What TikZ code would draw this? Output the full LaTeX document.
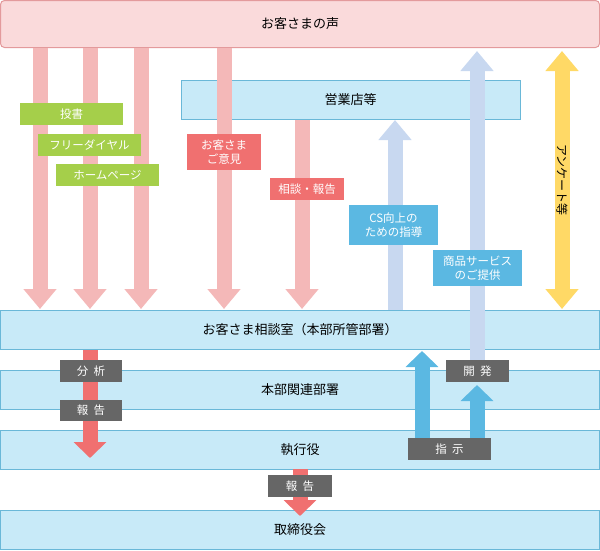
\documentclass[tikz,border=0pt]{standalone}
\usepackage{fontspec}
\setmainfont{Noto Sans CJK JP}
\usetikzlibrary{arrows.meta}
\definecolor{pinkbox}{HTML}{FADADB}
\definecolor{pinkline}{HTML}{E39A9C}
\definecolor{bluebox}{HTML}{C8EAF8}
\definecolor{blueline}{HTML}{6AB8D8}
\definecolor{pinkarrow}{HTML}{F4B8B8}
\definecolor{palearrow}{HTML}{C8D8F0}
\definecolor{yellowarrow}{HTML}{FFD966}
\definecolor{redlabel}{HTML}{F07070}
\definecolor{greenlabel}{HTML}{A5CF4A}
\definecolor{bluelabel}{HTML}{5BB8E2}
\definecolor{graylabel}{HTML}{666666}

\tikzset{
  box/.style={draw=blueline,fill=bluebox,line width=1pt,minimum height=39pt,font=\fontsize{13}{15}\selectfont},
  tag/.style={text=white,inner sep=0pt,align=center,font=\fontsize{11.5}{14}\selectfont},
  big/.style={line width=15pt,-{Triangle[width=32pt,length=20pt]}},
  small/.style={line width=15pt,-{Triangle[width=32pt,length=16pt]}}
}

\begin{document}
\begin{tikzpicture}[x=1pt,y=-1pt]
\useasboundingbox (0,0) rectangle (600,550);

% Boxes
\node [box,draw=pinkline,fill=pinkbox,rounded corners=4pt,minimum width=599pt,minimum height=47pt] (voice) at (300,24) {お客さまの声};
\node [box,minimum width=339pt] (branch) at (350.5,99.5) {営業店等};
\node [box,minimum width=599pt] (desk) at (300,330) {お客さま相談室（本部所管部署）};
\node [box,minimum width=599pt] (dept) at (300,389.5) {本部関連部署};
\node [box,minimum width=599pt] (exec) at (300,449.5) {執行役};
\node [box,minimum width=599pt] (board) at (300,529.5) {取締役会};

% Arrow end points
\foreach \x/\n in {40/a,90/b,141/c,224/d}{%
  \coordinate (s\n) at (\x,48);
  \coordinate (e\n) at (\x,309);
}
\coordinate (se) at (302,120);
\coordinate (ee) at (302,309);
\coordinate (cs0) at (395,310);
\coordinate (cs1) at (395,120);
\coordinate (sv0) at (477,380);
\coordinate (sv1) at (477,51);
\coordinate (q0) at (562,51);
\coordinate (q1) at (562,309);
\coordinate (an0) at (90,350);
\coordinate (an1) at (90,458);
\coordinate (rp0) at (300,469);
\coordinate (rp1) at (300,516);
\coordinate (in0) at (422,440);
\coordinate (in1) at (422,351);
\coordinate (dv0) at (477,440);
\coordinate (dv1) at (477,385);

% Arrows
\begin{scope}[every path/.style={draw}]
\foreach \n in {a,b,c,d,e}{\path[big,pinkarrow] (s\n) -- (e\n);}
\path[big,palearrow] (cs0) -- (cs1);
\path[big,palearrow] (sv0) -- (sv1);
\path[line width=15pt,yellowarrow,{Triangle[width=32pt,length=20pt]}-{Triangle[width=32pt,length=20pt]}] (q0) -- (q1);
\path[small,redlabel] (an0) -- (an1);
\path[small,redlabel] (rp0) -- (rp1);
\path[small,bluelabel] (in0) -- (in1);
\path[small,bluelabel] (dv0) -- (dv1);
\end{scope}

% Labels
\node [tag,fill=greenlabel,minimum width=103pt,minimum height=22pt] (letter) at (71.5,114) {投書};
\node [tag,fill=greenlabel,minimum width=103pt,minimum height=22pt] (dial) at (89.5,145) {フリーダイヤル};
\node [tag,fill=greenlabel,minimum width=103pt,minimum height=22pt] (web) at (107.5,175) {ホームページ};
\node [tag,fill=redlabel,minimum width=74pt,minimum height=36pt] (opinion) at (224,152) {お客さま\\ご意見};
\node [tag,fill=redlabel,minimum width=74pt,minimum height=22pt] (report) at (307,189) {相談・報告};
\node [tag,fill=bluelabel,minimum width=89pt,minimum height=40pt] (guide) at (393.5,225) {CS向上の\\ための指導};
\node [tag,fill=bluelabel,minimum width=89pt,minimum height=36pt] (offer) at (477.5,268) {商品サービス\\のご提供};
\node [font=\fontsize{12}{14}\selectfont,rotate=-90] (survey) at (562,180) {アンケート等};
\node [tag,fill=graylabel,minimum width=62pt,minimum height=22pt] (analysis) at (91,371) {分\ \ 析};
\node [tag,fill=graylabel,minimum width=62pt,minimum height=21pt] (report2) at (91,410) {報\ \ 告};
\node [tag,fill=graylabel,minimum width=83pt,minimum height=22pt] (order) at (449.5,449) {指\ \ 示};
\node [tag,fill=graylabel,minimum width=63pt,minimum height=22pt] (develop) at (477.5,371) {開\ \ 発};
\node [tag,fill=graylabel,minimum width=64pt,minimum height=22pt] (report3) at (300,486) {報\ \ 告};
\end{tikzpicture}
\end{document}
